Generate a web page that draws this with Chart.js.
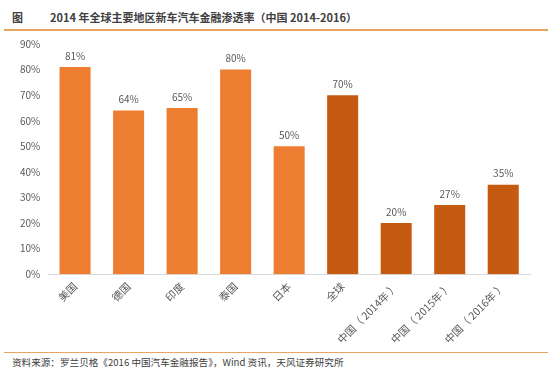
<!DOCTYPE html>
<html>
<head>
<meta charset="utf-8">
<script src="https://cdn.jsdelivr.net/npm/chart.js@4"></script>
<style>
  html, body { margin: 0; padding: 0; background: #fff; }
  body { width: 554px; height: 369px; position: relative; overflow: hidden; font-family: "Noto Sans CJK SC", "Noto Sans", sans-serif; }
  #title { position: absolute; left: 12px; top: 9px; font-size: 11px; font-weight: bold; color: #404040; white-space: nowrap; }
  #title .tag { display: inline-block; width: 38px; }
  #topLine { position: absolute; left: 4px; right: 6px; top: 29px; height: 2px; background: #e8a660; }
  #bottomLine { position: absolute; left: 4px; right: 6px; top: 352px; height: 1px; background: #e8a660; }
  #source { position: absolute; left: 12px; top: 355px; font-size: 9.6px; color: #404040; white-space: nowrap; }
  #wrap { position: absolute; left: 0; top: 30px; width: 554px; height: 322px; }
</style>
</head>
<body>
<div id="title"><span class="tag">图</span>2014 年全球主要地区新车汽车金融渗透率（中国 2014-2016）</div>
<div id="topLine"></div>
<div id="wrap"><canvas id="penetrationChart"></canvas></div>
<div id="bottomLine"></div>
<div id="source">资料来源：罗兰贝格《2016 中国汽车金融报告》，Wind 资讯，天风证券研究所</div>
<script>
const regions = ['美国', '德国', '印度', '泰国', '日本', '全球', '中国（ 2014年 ）', '中国（ 2015年 ）', '中国（ 2016年 ）'];
const penetration = [81, 64, 65, 80, 50, 70, 20, 27, 35];
const barColors = ['#ed7d31', '#ed7d31', '#ed7d31', '#ed7d31', '#ed7d31', '#c55a11', '#c55a11', '#c55a11', '#c55a11'];
const yTicks = [0, 10, 20, 30, 40, 50, 60, 70, 80, 90];

const valueLabels = {
    id: 'valueLabels',
    afterDatasetsDraw(chart) {
        const { ctx } = chart;
        const meta = chart.getDatasetMeta(0);
        ctx.save();
        ctx.font = '10px "Noto Sans CJK SC", sans-serif';
        ctx.fillStyle = '#595959';
        ctx.textAlign = 'center';
        ctx.textBaseline = 'bottom';
        meta.data.forEach((bar, i) => {
            ctx.fillText(`${penetration[i]}%`, bar.x, bar.y - 6);
        });
        ctx.restore();
    }
};

new Chart(document.getElementById('penetrationChart'), {
    type: 'bar',
    data: {
        labels: regions,
        datasets: [{
            data: penetration,
            backgroundColor: barColors,
            barPercentage: 0.58,
            categoryPercentage: 1
        }]
    },
    options: {
        responsive: true,
        maintainAspectRatio: false,
        animation: false,
        layout: { padding: { top: 8, right: 24, left: 12, bottom: 0 } },
        scales: {
            y: {
                min: 0,
                max: 90,
                afterBuildTicks: (axis) => { axis.ticks = yTicks.map(v => ({ value: v })); },
                grid: { display: false, drawTicks: false },
                border: { display: false },
                ticks: {
                    padding: 8,
                    color: '#595959',
                    font: { size: 10, family: '"Noto Sans CJK SC", sans-serif' },
                    callback: (v) => `${v}%`
                }
            },
            x: {
                grid: { display: false, drawTicks: false },
                border: { display: true, color: '#d9d9d9' },
                ticks: {
                    padding: 6,
                    maxRotation: 45,
                    minRotation: 45,
                    color: '#595959',
                    font: { size: 10.5, family: '"Noto Sans CJK SC", sans-serif' }
                }
            }
        },
        plugins: {
            legend: { display: false },
            tooltip: { enabled: false }
        }
    },
    plugins: [valueLabels]
});
</script>
</body>
</html>
